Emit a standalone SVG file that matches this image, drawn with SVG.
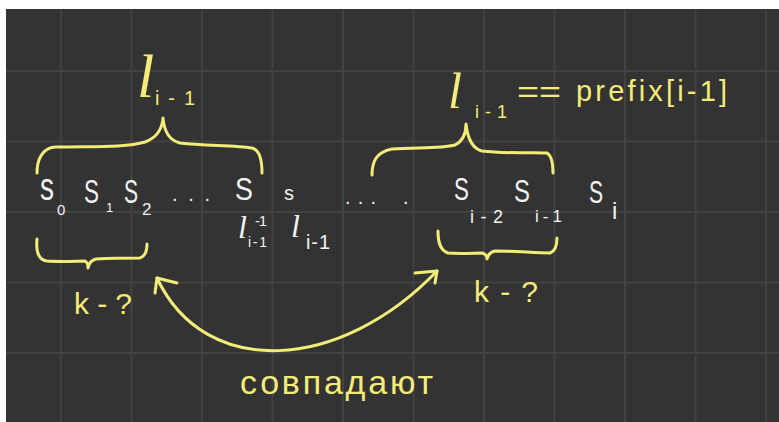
<svg xmlns="http://www.w3.org/2000/svg" width="779" height="422" viewBox="0 0 779 422">
<style>
.bg{fill:#333333}
.grid{stroke:#424242;stroke-width:2;fill:none}
.ylw{stroke:#f3ec78;stroke-width:3;fill:none;stroke-linecap:round;stroke-linejoin:round}
.yt{fill:#f3ec78;font-family:"Liberation Sans",Arial,sans-serif}
.wt{fill:#f2f2f2;font-family:"Liberation Sans",Arial,sans-serif}
.ell{font-family:"Liberation Serif","Times New Roman",serif;font-style:italic}
</style>
<rect width="779" height="422" fill="#ffffff"/>
<rect class="bg" x="6" y="9" width="773" height="413"/>
<g id="grid" class="grid">
<path d="M61,9V422M131.5,9V422M202,9V422M272.5,9V422M343,9V422M413.5,9V422M484,9V422M554.5,9V422M625,9V422M695.5,9V422M766,9V422"/>
<path d="M6,71H779M6,141.5H779M6,212H779M6,282.5H779M6,353H779"/>
</g>
<g id="label-top-left">
<text class="yt ell" x="137" y="97" font-size="62">l</text>
<text class="yt" x="155" y="105" font-size="20" textLength="40" lengthAdjust="spacing">i-1</text>
</g>
<g id="label-top-right">
<text class="yt"><tspan class="ell" x="448" y="108" font-size="50">l</tspan><tspan x="475" y="118" font-size="18" textLength="32" lengthAdjust="spacing">i-1</tspan><tspan x="517" y="102" font-size="30" textLength="44" lengthAdjust="spacingAndGlyphs">==</tspan><tspan x="576" y="101" font-size="29" textLength="151" lengthAdjust="spacing">prefix[i-1]</tspan></text>
</g>
<g id="brace-top-left">
<path class="ylw" d="M37,173 C37,160 42,148 55,147 C90,146 125,148 145,142 C156,138 162,130 163,118 C164,130 168,140 180,143 C205,146 235,145 252,148 C260,150 262,160 262,173"/>
</g>
<g id="brace-top-right">
<path class="ylw" d="M372,175 C372,162 376,152 392,149 C415,147 440,149 455,145 C463,141 466,133 466,124 C467,133 470,148 482,151 C505,154 530,152 547,153 C552,156 553,165 553,173"/>
</g>
<g id="sequence">
<text class="wt" transform="translate(40,200) scale(0.74,1)" font-size="38">s</text>
<text class="wt" x="57" y="215" font-size="15">0</text>
<text class="wt" transform="translate(84,203) scale(0.66,1)" font-size="34">S</text>
<text class="wt" x="106" y="212" font-size="13">1</text>
<text class="wt" transform="translate(124,203) scale(0.62,1)" font-size="34">S</text>
<text class="wt" x="142" y="215" font-size="17">2</text>
<text class="wt" x="172" y="201" font-size="20" textLength="38" lengthAdjust="spacing">. . .</text>
<text class="wt" transform="translate(235,200) scale(0.84,1)" font-size="32">S</text>
<text class="wt ell" x="238" y="238" font-size="32">l</text>
<text class="wt" x="255" y="226" font-size="15" textLength="12" lengthAdjust="spacing">-1</text>
<text class="wt" x="248" y="247" font-size="14" textLength="19" lengthAdjust="spacing">i-1</text>
<text class="wt" x="284" y="200" font-size="20">s</text>
<text class="wt ell" x="291" y="237" font-size="32">l</text>
<text class="wt" x="306" y="249" font-size="20" textLength="24" lengthAdjust="spacing">i-1</text>
<text class="wt" x="345" y="204" font-size="20" textLength="31" lengthAdjust="spacing">. . .</text>
<text class="wt" x="403" y="204" font-size="20">.</text>
<text class="wt" transform="translate(454,200) scale(0.72,1)" font-size="31">S</text>
<text class="wt" x="470" y="223" font-size="18" textLength="33" lengthAdjust="spacing">i-2</text>
<text class="wt" transform="translate(514,202) scale(0.77,1)" font-size="31">S</text>
<text class="wt" x="535" y="222" font-size="17" textLength="27" lengthAdjust="spacing">i-1</text>
<text class="wt" transform="translate(589,203) scale(0.66,1)" font-size="32">S</text>
<text class="wt" x="612" y="219" font-size="24">i</text>
</g>
<g id="brace-bottom-left">
<path class="ylw" d="M37,239 C36,250 38,260 47,261 C60,262 78,261 85,261 C87,262 88,265 88,268 C89,263 91,260 96,259 C115,258 130,258 140,258 C146,256 147,250 147,244"/>
<text class="yt" x="74" y="314" font-size="30" textLength="58" lengthAdjust="spacing">k-?</text>
</g>
<g id="brace-bottom-right">
<path class="ylw" d="M438,231 C438,240 439,250 448,253 C460,254 475,253 482,253 C486,254 487,257 487,259 C488,255 490,252 495,251 C515,251 535,253 550,253 C556,251 557,245 557,238"/>
<text class="yt" x="474" y="302" font-size="30" textLength="64" lengthAdjust="spacing">k-?</text>
</g>
<g id="connectors">
<path class="ylw" d="M157,278 C205,380 340,372 437,271"/>
<path class="ylw" d="M155,293 L157,278 L177,283"/>
<path class="ylw" d="M415,273 L437,271 L435,283"/>
</g>
<g id="label-match">
<text class="yt" x="240" y="394" font-size="34" textLength="193" lengthAdjust="spacing">совпадают</text>
</g>
</svg>
